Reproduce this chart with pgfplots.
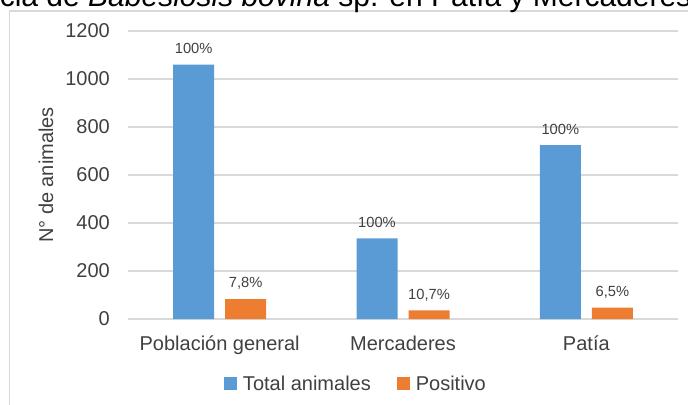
\documentclass[border=0pt]{standalone}
\usepackage{fontspec}
\setmainfont{Liberation Sans}
\usepackage{pgfplots}
\pgfplotsset{compat=1.18}
\definecolor{barblue}{HTML}{5B9BD5}
\definecolor{barorange}{HTML}{ED7D31}
\definecolor{gridgray}{HTML}{D9D9D9}
\definecolor{txt}{HTML}{404040}
\begin{document}
\begin{tikzpicture}[x=1bp,y=1bp]
\useasboundingbox (0,0) rectangle (688,404);
\draw[gridgray, line width=1.2bp] (9.5,-5) -- (9.5,393) -- (700,393);
\node[anchor=base west, inner sep=0pt, font=\fontsize{30bp}{36bp}\selectfont] at (88,397) {\llap{Prevalencia de }\textit{Babesiosis bovina} sp. en Patía y Mercaderes};
\begin{axis}[
  at={(128bp,85bp)}, anchor=south west,
  scale only axis, width=550bp, height=288bp,
  xmin=-0.5, xmax=2.5, ymin=0, ymax=1200,
  xtick={0,1,2}, xticklabels={Población general,Mercaderes,Patía},
  ytick={0,200,...,1200},
  ymajorgrids, grid style={gridgray, line width=1.2bp},
  axis line style={draw=none},
  major tick length=0pt,
  tick style={draw=none},
  /pgf/number format/assume math mode=true,
  /pgf/number format/1000 sep={},
  tick label style={font=\fontsize{20bp}{24bp}\selectfont, text=txt},
  yticklabel style={inner sep=0pt, xshift=-18bp},
  xticklabel style={inner sep=0pt, anchor=north, text height=14.3bp, text depth=4bp, yshift=-17.2bp},
  ylabel={N° de animales},
  ylabel style={font=\fontsize{20bp}{24bp}\selectfont, text=txt, at={(axis description cs:-0.13636,0.5)}, anchor=base, inner sep=0pt},
  ybar, bar width=41bp,
  nodes near coords, point meta=explicit symbolic,
  every node near coord/.append style={font=\fontsize{14.7bp}{17bp}\selectfont, text=txt, inner sep=0pt, text depth=0pt, anchor=south, yshift=11bp},
  legend columns=2,
  legend style={at={(axis description cs:0.17455,-0.1899)}, anchor=north west, draw=none, fill=none, inner sep=0pt, outer sep=0pt, font=\fontsize{20bp}{24bp}\selectfont, text=txt, cells={anchor=base west, inner sep=0pt, text=txt}, /tikz/every odd column/.append style={column sep=4bp}, /tikz/every even column/.append style={column sep=24bp}},
  legend image code/.code={\fill[#1] (0bp,0bp) rectangle (13bp,13bp);},
]
\addplot[fill=barblue, draw=none, bar shift=-26bp] coordinates {(0,1060) [100\%] (1,336) [100\%] (2,724) [100\%]};
\addplot[fill=barorange, draw=none, bar shift=26bp] coordinates {(0,83) [7,8\%] (1,36) [10,7\%] (2,47) [6,5\%]};
\legend{Total animales, Positivo}
\end{axis}
\end{tikzpicture}
\end{document}
